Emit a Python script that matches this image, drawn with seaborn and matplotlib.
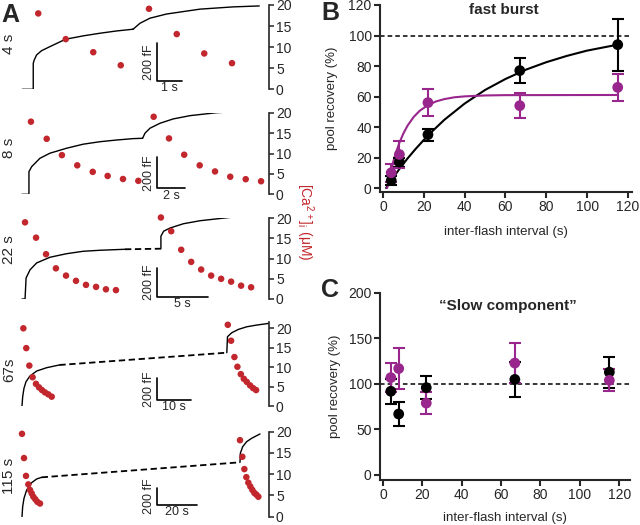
import numpy as np
import seaborn as sns
import matplotlib.pyplot as plt

sns.set_style("ticks")
plt.rcParams['font.family'] = ['Liberation Sans', 'DejaVu Sans']
plt.rcParams['mathtext.fontset'] = 'custom'
plt.rcParams['mathtext.rm'] = 'Liberation Sans'

RED = '#c1272d'
PURPLE = '#99268c'

# ---------------- panel A data ----------------
# capacitance traces in fF, time in s (segment 2 is relative to the 2nd flash)
row_labels = ['4 s', '8 s', '22 s', '67s', '115 s']
time_bar = [1, 2, 5, 10, 20]   # s
cap_bar = 200                  # fF
broken_axis = [False, False, True, True, True]

trace1_t = [[-0.44, 0.0, 0.0, 0.04, 0.13, 0.33, 0.67, 1.29, 2.0, 2.67, 3.33, 3.97],
            [-0.49, 0.0, 0.0, 0.19, 0.77, 1.48, 2.65, 3.82, 5.0, 6.18, 7.35, 8.0],
            [-0.29, 0.0, 0.1, 0.49, 1.13, 2.43, 4.05, 5.66, 7.28, 9.71],
            [0.0, 0.2, 0.58, 1.17, 2.33, 4.28, 7.2, 10.9],
            [0.0, 0.33, 1.0, 2.33, 4.83, 7.33, 9.83]]
trace1_c = [[0, 0, 138, 156, 182, 205, 227, 266, 284, 298, 310, 319],
            [0, 0, 146, 178, 232, 265, 297, 323, 339, 350, 359, 361],
            [0, 0, 148, 206, 254, 294, 319, 336, 343, 350],
            [0, 86, 164, 225, 278, 324, 355, 380],
            [0, 115, 212, 308, 392, 435, 454]]
trace2_t = [[0.0, 0.27, 0.67, 1.33, 2.0, 2.67, 4.0, 5.04],
            [0.0, 0.17, 0.52, 1.23, 2.16, 3.34, 5.2, 8.2],
            [0.0, 0.0, 0.26, 0.9, 2.2, 3.81, 7.04, 10.44],
            [0.0, 0.2, 1.46, 3.4, 5.83, 8.75, 12.4],
            [0.0, 0.17, 1.33, 3.33, 5.83, 10.0]]
trace2_c = [[320, 351, 378, 400, 413, 426, 438, 443],
            [361, 394, 426, 458, 486, 507, 526, 542],
            [354, 442, 477, 500, 530, 551, 577, 594],
            [494, 642, 679, 710, 734, 750, 766],
            [627, 731, 807, 865, 904, 954]]
# position of the 2nd flash on the (broken) time axis, s
flash2_at = [4.0, 8.0, 13.2, 59.7, 109.0]

# [Ca2+]i in uM after flash 1 and flash 2
ca1_t = [[0.2, 1.3, 2.4, 3.5],
         [0.14, 1.25, 2.32, 3.4, 4.49, 5.54, 6.62, 7.7],
         [0, 1.07, 2.04, 3.0, 3.98, 4.95, 5.92, 6.9, 7.86, 8.83],
         [0.4, 1.25, 2.14, 3.1, 4.08, 4.96, 5.83, 6.7, 7.67, 8.66],
         [0, 1, 2, 3.17, 4, 4.83, 5.67, 6.67, 7.67, 9.0]]
ca1 = [[18.0, 11.9, 8.8, 5.7],
       [17.8, 13.6, 9.6, 7.1, 5.5, 4.5, 3.75, 3.3],
       [19.0, 15.2, 11.1, 7.6, 5.8, 4.5, 3.5, 3.0, 2.4, 2.2],
       [20.0, 14.9, 10.4, 7.4, 5.7, 4.8, 4.1, 3.5, 3.0, 2.4],
       [19.5, 13.8, 9.6, 7.6, 6.3, 5.5, 4.7, 4.1, 3.5, 3.1]]
ca2_t = [[0.63, 1.74, 2.84, 3.95],
         [0.78, 1.86, 2.93, 4.02, 5.1, 6.17, 7.26, 8.34],
         [0, 1.0, 1.97, 2.94, 3.91, 4.88, 5.85, 6.82, 7.79, 8.76],
         [0.29, 1.25, 2.22, 3.09, 4.08, 4.96, 5.83, 6.79, 7.67, 8.54],
         [0, 1.17, 2.17, 3.17, 4.17, 5.17, 6.17, 7.17, 8.17, 9.17]]
ca2 = [[19.1, 13.1, 8.5, 6.2],
       [19.0, 13.7, 9.7, 7.1, 5.6, 4.3, 3.7, 3.2],
       [20.2, 16.8, 12.2, 9.2, 7.3, 5.8, 5.0, 4.3, 3.3, 2.9],
       [20.9, 16.8, 12.6, 10.1, 8.2, 7.0, 6.2, 5.3, 4.6, 4.1],
       [18.0, 14.1, 11.2, 9.3, 8.0, 7.1, 6.3, 5.6, 5.2, 4.7]]
ca_ticks = [0, 5, 10, 15, 20]

# ---------------- panels B / C data ----------------
intervals = [4, 8, 22, 67, 115]
burst_ctrl = [5, 17, 35, 77, 94]
burst_ctrl_err = [3, 3, 4, 8, 17]
burst_purple = [10, 22, 56, 54, 66]
burst_purple_err = [6, 9, 9, 8, 9]
# exponential fits
fit_ctrl_t = [1.5, 4, 8, 12, 16, 22, 30, 40, 50, 60, 70, 80, 90, 100, 115]
fit_ctrl = [0, 5.0, 12.5, 19.4, 25.7, 34.5, 44.7, 55.4, 64.3, 71.5, 77.6, 82.5, 86.6, 90.1, 94.0]
fit_purple_t = [2, 3, 4, 5, 6, 8, 10, 12, 15, 18, 22, 26, 30, 35, 40, 50, 60, 115]
fit_purple = [0, 6.4, 12.1, 17.3, 21.9, 29.7, 35.9, 40.9, 46.6, 50.7, 54.4, 56.8, 58.3, 59.5, 60.1, 60.7, 60.9, 61.0]

slow_ctrl = [92, 67, 96, 105, 113]
slow_ctrl_err = [14, 13, 13, 19, 17]
slow_purple = [107, 117, 79, 123, 104]
slow_purple_err = [16, 23, 12, 22, 12]

# ---------------- layout (pixels) ----------------
W, H = 640, 525
fig = plt.figure(figsize=(6.4, 5.25), dpi=100)


def rect(x0, x1, ytop, ybot):
    return [x0 / W, 1 - ybot / H, (x1 - x0) / W, (ybot - ytop) / H]


row_bot_px = [89.3, 194.3, 299, 406, 516.7]
row_top_px = [5, 112.7, 218.3, 321.7, 431.7]
ca_top = [20, 20, 20, 21.7, 20]
row_xlim = [(-0.53, 9.43), (-0.63, 16.9), (-0.49, 23.7), (-0.58, 72.0), (-1.0, 123.5)]
cap_max = [448, 526, 568, 781, 980]
bar_x = 0.55
bar_y = [0.098, 0.074, 0.028, 0.071, 0.138]
label_y_px = [44, 148, 250, 370, 476]

for i in range(5):
    ax = fig.add_axes(rect(20, 269, row_top_px[i], row_bot_px[i]))
    axc = ax.twinx()
    ax.set_zorder(axc.get_zorder() + 1)
    ax.patch.set_visible(False)

    f2 = flash2_at[i]
    t2 = np.array(trace2_t[i]) + f2
    sns.lineplot(x=trace1_t[i], y=trace1_c[i], ax=axc, color='k', lw=1.0,
                 estimator=None, sort=False)
    sns.lineplot(x=t2, y=trace2_c[i], ax=axc, color='k', lw=1.0,
                 estimator=None, sort=False)
    sns.lineplot(x=[trace1_t[i][-1], t2[0]], y=[trace1_c[i][-1], trace2_c[i][0]],
                 ax=axc, color='k', lw=1.3 if broken_axis[i] else 1.0,
                 linestyle=(0, (3.5, 2)) if broken_axis[i] else '-',
                 estimator=None, sort=False)

    # scale bars
    x0 = row_xlim[i][0] + bar_x * (row_xlim[i][1] - row_xlim[i][0])
    y0 = bar_y[i] * cap_max[i]
    sns.lineplot(x=[x0, x0, x0 + time_bar[i]], y=[y0 + cap_bar, y0, y0], ax=axc,
                 color='k', lw=1.2, estimator=None, sort=False)
    axc.annotate(f'{cap_bar} fF', (x0, y0 + cap_bar / 2), xytext=(-1.5, 0),
                 textcoords='offset points', rotation=90, ha='right', va='center',
                 fontsize=9)
    axc.annotate(f'{time_bar[i]} s', (x0 + time_bar[i] / 2, y0), xytext=(0, -1),
                 textcoords='offset points', ha='center', va='top', fontsize=9)
    axc.set_ylim(0, cap_max[i])
    axc.axis('off')

    sns.scatterplot(x=ca1_t[i], y=ca1[i], ax=ax, color=RED, s=22, edgecolor='none',
                    clip_on=False, zorder=3)
    sns.scatterplot(x=np.array(ca2_t[i]) + f2, y=ca2[i], ax=ax, color=RED, s=22,
                    edgecolor='none', clip_on=False, zorder=3)
    ax.set_xlim(row_xlim[i])
    ax.set_ylim(0, ca_top[i])
    for s in ['left', 'top', 'bottom']:
        ax.spines[s].set_visible(False)
    ax.spines['right'].set_linewidth(1.2)
    ax.yaxis.tick_right()
    ax.set_yticks(ca_ticks)
    ax.set_xticks([])
    ax.tick_params(axis='y', length=3.5, width=1.1, labelsize=10, pad=1.5)

    fig.text(9 / W, 1 - label_y_px[i] / H, row_labels[i], rotation=90,
             ha='center', va='center', fontsize=11)

fig.text(305 / W, 1 - 222 / H, r'[Ca$^{2+}$]$_\mathrm{i}$ (μM)', rotation=-90,
         color=RED, fontsize=10, ha='center', va='center')


def style_xy(ax):
    sns.despine(ax=ax)
    for s in ['left', 'bottom']:
        ax.spines[s].set_linewidth(1.5)
    ax.tick_params(length=4, width=1.5, labelsize=10, pad=2)


# ---------------- panel B ----------------
axB = fig.add_axes(rect(380, 632, 5, 192))
axB.axhline(100, ls=(0, (3, 2)), color='k', lw=1.1)
sns.lineplot(x=fit_ctrl_t, y=fit_ctrl, ax=axB, color='k', lw=1.5, estimator=None, sort=False)
sns.lineplot(x=fit_purple_t, y=fit_purple, ax=axB, color=PURPLE, lw=1.5, estimator=None, sort=False)
axB.errorbar(intervals, burst_ctrl, yerr=burst_ctrl_err, fmt='none', ecolor='k',
             elinewidth=1.5, capsize=4, capthick=1.5)
axB.errorbar(intervals, burst_purple, yerr=burst_purple_err, fmt='none', ecolor=PURPLE,
             elinewidth=1.5, capsize=4, capthick=1.5)
sns.scatterplot(x=intervals, y=burst_ctrl, ax=axB, color='k', s=60, edgecolor='none', zorder=3)
sns.scatterplot(x=intervals, y=burst_purple, ax=axB, color=PURPLE, s=60, edgecolor='none', zorder=4)
axB.set_xlim(-1.5, 122)
axB.set_ylim(-2.6, 120)
axB.set_xticks(range(0, 121, 20))
axB.set_yticks(range(0, 121, 20))
style_xy(axB)
axB.set_xlabel('inter-flash interval (s)', fontsize=9.5)
axB.set_ylabel('pool recovery (%)', fontsize=9.5)
axB.xaxis.set_label_coords(0.5, -0.18)
axB.yaxis.set_label_coords(-0.167, 0.5)
axB.text(0.49, 0.975, 'fast burst', transform=axB.transAxes, ha='center',
         va='center', fontsize=11, fontweight='bold')

# ---------------- panel C ----------------
axC = fig.add_axes(rect(380, 630, 293, 480))
axC.axhline(100, ls=(0, (3, 2)), color='k', lw=1.1)
axC.errorbar(intervals, slow_ctrl, yerr=slow_ctrl_err, fmt='none', ecolor='k',
             elinewidth=1.5, capsize=4, capthick=1.5)
axC.errorbar(intervals, slow_purple, yerr=slow_purple_err, fmt='none', ecolor=PURPLE,
             elinewidth=1.5, capsize=4, capthick=1.5)
sns.scatterplot(x=intervals, y=slow_ctrl, ax=axC, color='k', s=60, edgecolor='none', zorder=3)
sns.scatterplot(x=intervals, y=slow_purple, ax=axC, color=PURPLE, s=60, edgecolor='none', zorder=4)
axC.set_xlim(-1.5, 125.5)
axC.set_ylim(-5.5, 200)
axC.set_xticks(range(0, 121, 20))
axC.set_yticks(range(0, 201, 50))
style_xy(axC)
axC.set_xlabel('inter-flash interval (s)', fontsize=9.5)
axC.set_ylabel('pool recovery (%)', fontsize=9.5)
axC.xaxis.set_label_coords(0.5, -0.171)
axC.yaxis.set_label_coords(-0.156, 0.5)
axC.text(0.51, 0.93, '\u201cSlow component\u201d', transform=axC.transAxes, ha='center',
         va='center', fontsize=11, fontweight='bold')

# panel letters
fig.text(10 / W, 1 - 15 / H, 'A', fontsize=18, fontweight='bold', ha='center', va='center')
fig.text(330 / W, 1 - 13 / H, 'B', fontsize=18, fontweight='bold', ha='center', va='center')
fig.text(330 / W, 1 - 290 / H, 'C', fontsize=18, fontweight='bold', ha='center', va='center')

fig.savefig('out.png', dpi=100)
